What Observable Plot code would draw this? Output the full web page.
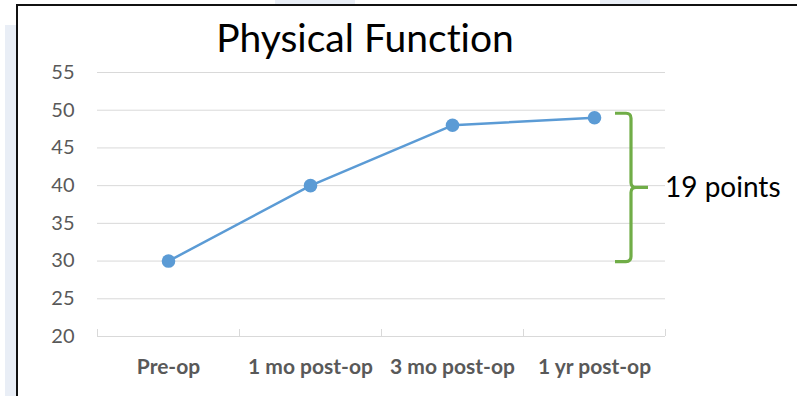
<!DOCTYPE html>
<html>
<head>
<meta charset="utf-8">
<script src="https://cdn.jsdelivr.net/npm/d3@7"></script>
<script src="https://cdn.jsdelivr.net/npm/@observablehq/plot@0.6"></script>
<style>
  html, body { margin: 0; padding: 0; background: #fff; }
  #page { position: relative; width: 797px; height: 396px; overflow: hidden; font-family: Lato, "Open Sans", sans-serif; font-variant-ligatures: none; }
  .strip { position: absolute; background: #e9eef6; }
  #frame { position: absolute; left: 16px; top: 4px; right: -4px; bottom: -4px; border-top: 2px solid #111; border-left: 2px solid #111; }
  #title { position: absolute; left: 0; width: 730px; top: 13px; text-align: center; font-size: 39px; color: #000; line-height: 48px; }
  #chart { position: absolute; left: 0; top: 0; }
  #chart svg text { font-variant-ligatures: none; }
</style>
</head>
<body>
<div id="page">
  <div class="strip" style="left:5px; top:25px; width:11px; bottom:0;"></div>
  <div class="strip" style="left:275px; top:0; width:80px; height:4px;"></div>
  <div class="strip" style="left:600px; top:0; width:50px; height:4px;"></div>
  <div id="frame"></div>
  <div id="title">Physical Function</div>
  <div id="chart"></div>
</div>
<script>
// Physical Function score at each follow-up visit
const categories = ["Pre-op", "1 mo post-op", "3 mo post-op", "1 yr post-op"];
const scores = [30, 40, 48, 49];
const yTicks = [20, 25, 30, 35, 40, 45, 50, 55];
const changeLabel = "19 points";

const data = categories.map((c, i) => ({pos: i + 0.5, label: c, score: scores[i]}));
const boundaries = d3.range(categories.length + 1);

// Bracket spanning the change from the first to the last visit
const lo = scores[0];
const hi = scores[scores.length - 1];

function bracket(index, scales) {
  const xc = scales.x(data[data.length - 1].pos);
  const y0 = scales.y(hi) - 4;
  const y1 = scales.y(lo) + 1;
  const ym = (y0 + y1) / 2;
  const xl = xc + 21, xv = xc + 37, xp = xc + 54, r = 5;
  const path = d3.path();
  path.moveTo(xl, y0);
  path.lineTo(xv - r, y0);
  path.quadraticCurveTo(xv, y0, xv, y0 + r);
  path.lineTo(xv, ym - r);
  path.quadraticCurveTo(xv, ym, xv + r, ym);
  path.lineTo(xp, ym);
  path.moveTo(xv + r, ym);
  path.quadraticCurveTo(xv, ym, xv, ym + r);
  path.lineTo(xv, y1 - r);
  path.quadraticCurveTo(xv, y1, xv - r, y1);
  path.lineTo(xl, y1);
  const g = d3.create("svg:g");
  g.append("path")
    .attr("d", path.toString())
    .attr("fill", "none")
    .attr("stroke", "#70ad47")
    .attr("stroke-width", 3.2)
    .attr("stroke-linejoin", "round");
  g.append("text")
    .attr("x", xp + 17)
    .attr("y", ym)
    .attr("dy", "0.35em")
    .attr("text-anchor", "start")
    .attr("font-size", 28)
    .attr("fill", "#000")
    .text(changeLabel);
  return g.node();
}

const chart = Plot.plot({
  width: 797,
  height: 396,
  marginLeft: 97,
  marginRight: 132,
  marginTop: 72,
  marginBottom: 60,
  style: {background: "transparent", fontFamily: "Lato, 'Open Sans', sans-serif", overflow: "visible"},
  x: {type: "linear", domain: [0, categories.length]},
  y: {domain: [20, 55]},
  marks: [
    Plot.gridY(yTicks, {stroke: "#d9d9d9", strokeOpacity: 1, strokeWidth: 1}),
    Plot.ruleX(boundaries, {x: d => d, y1: 20, y2: 20, stroke: "#d9d9d9", strokeWidth: 1, insetTop: -7}),
    Plot.axisY(yTicks, {tickSize: 0, tickPadding: 23, fontSize: 20, fill: "#595959", label: null}),
    Plot.axisX(data.map(d => d.pos), {
      tickSize: 0, tickPadding: 23, fontSize: 21, fontWeight: "bold", fill: "#595959", label: null,
      tickFormat: p => categories[Math.floor(p)]
    }),
    Plot.line(data, {x: "pos", y: "score", stroke: "#5b9bd5", strokeWidth: 2.5}),
    Plot.dot(data, {x: "pos", y: "score", r: 6.8, fill: "#5b9bd5", stroke: "none"}),
    bracket
  ]
});

document.getElementById("chart").appendChild(chart);
</script>
</body>
</html>
